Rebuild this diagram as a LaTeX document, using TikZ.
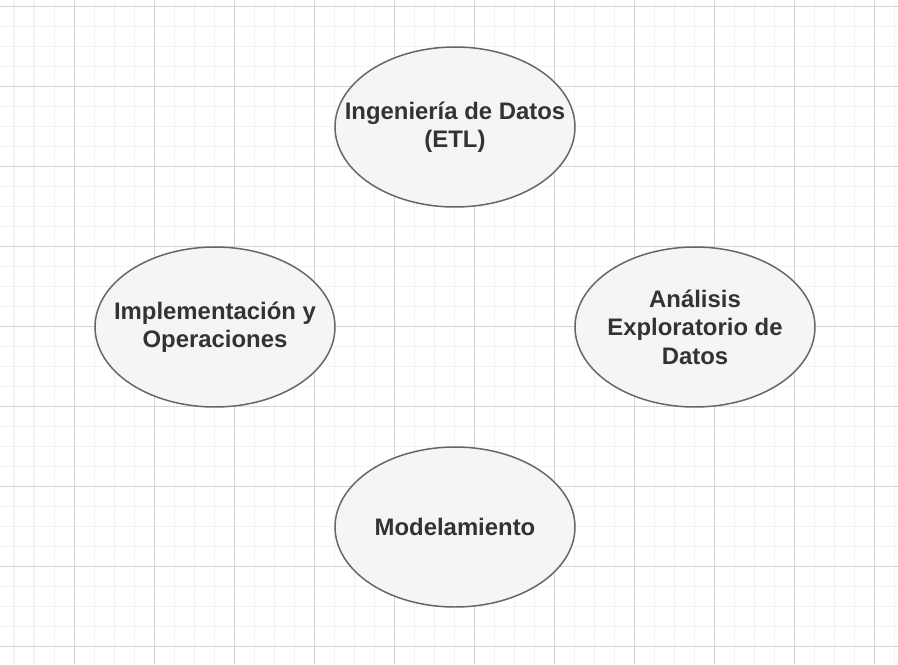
\documentclass[tikz,border=0pt]{standalone}
\usepackage{fontspec}
\setmainfont{Liberation Sans}
\usepackage{xcolor}
\usetikzlibrary{shapes.geometric}
\definecolor{gridminor}{HTML}{F1F1F1}
\definecolor{gridmajor}{HTML}{D4D4D4}
\definecolor{phasefill}{HTML}{F5F5F5}
\definecolor{phaseline}{HTML}{666666}
\definecolor{phasetext}{HTML}{333333}
\begin{document}
\begin{tikzpicture}[x=0.02cm, y=-0.02cm, phase-node/.style={
                ellipse, draw=phaseline, fill=phasefill, line width=0.85pt, minimum width=4.8cm, minimum height=3.2cm,
                inner xsep=-20pt, inner ysep=0pt, align=center, text=phasetext, font=\bfseries\fontsize{13.6}{16.2}\selectfont}]
                \useasboundingbox[fill=white] (0,0) rectangle (898,664);
                % grid
                \foreach \x in {14,34,...,894} \draw[gridminor, line width=0.57pt] (\x,0) -- (\x,664);
                \foreach \y in {6,26,...,660} \draw[gridminor, line width=0.57pt] (0,\y) -- (898,\y);
                \foreach \x in {74,154,...,874} \draw[gridmajor, line width=0.57pt] (\x,0) -- (\x,664);
                \foreach \y in {6,86,...,646} \draw[gridmajor, line width=0.57pt] (0,\y) -- (898,\y);
                % phases
                \node[phase-node] (etl) at (455,127) {Ingeniería de Datos\\(ETL)};
                \node[phase-node] (eda) at (695,327) {Análisis\\Exploratorio de\\Datos};
                \node[phase-node] (modelo) at (455,527) {Modelamiento};
                \node[phase-node] (deploy) at (215,327) {Implementación y\\Operaciones};
            \end{tikzpicture}
\end{document}
